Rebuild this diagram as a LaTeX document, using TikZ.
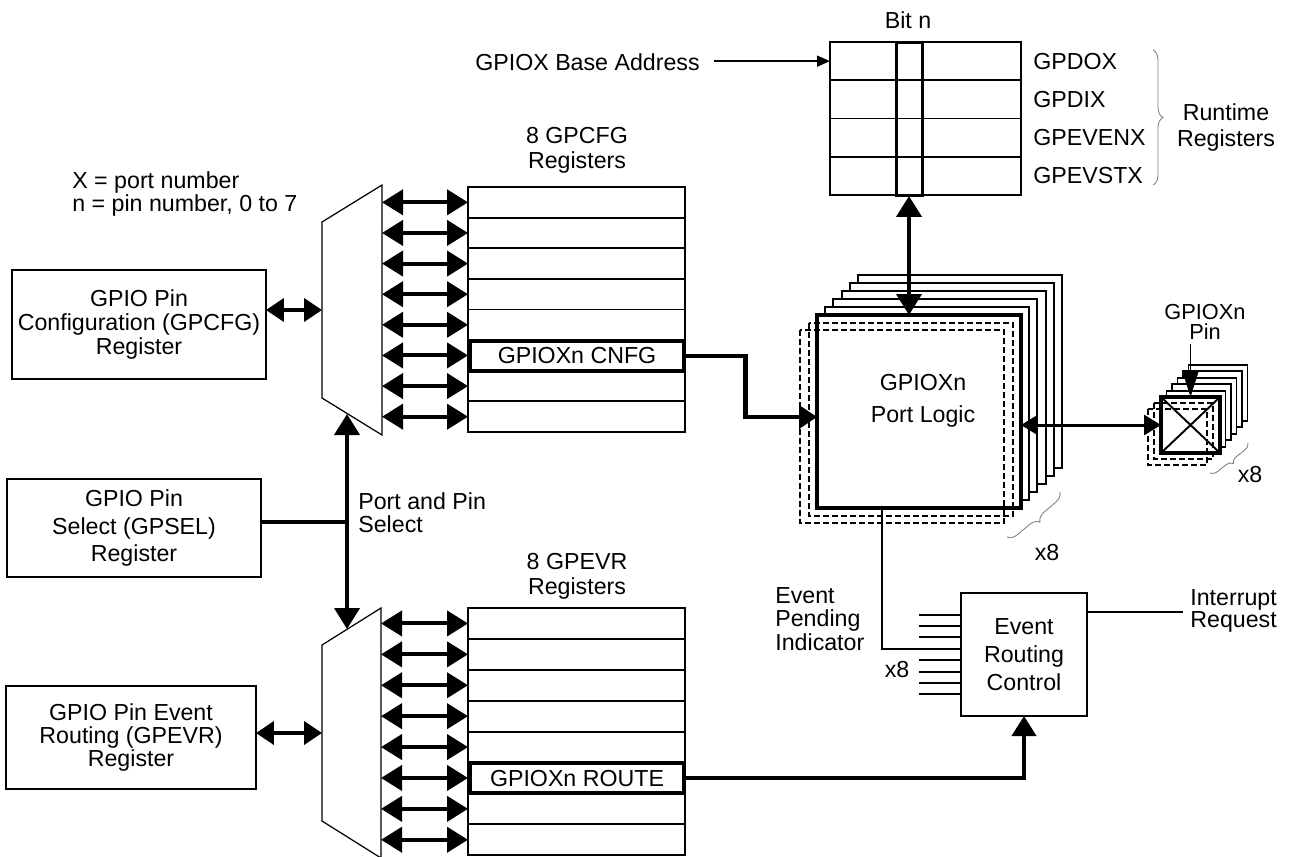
\documentclass[tikz,border=0pt]{standalone}
\usepackage{fontspec}
\setmainfont{Liberation Sans}
\usetikzlibrary{arrows.meta,decorations.pathreplacing,calc}
\tikzset{
  txt/.style={font=\fontsize{13.2}{#1}\selectfont, inner sep=0pt, align=center},
  txt/.default=14pt,
  boxed/.style={draw, line width=1.1pt, inner sep=0pt, outer sep=0pt},
  regrow/.style={boxed, minimum width=4.34cm, minimum height=0.6125cm},
  evrow/.style={boxed, minimum width=4.34cm, minimum height=0.618cm},
  hilite/.style={draw, line width=1.8pt, minimum width=4.26cm, minimum height=0.6cm, inner sep=0pt, outer sep=0pt, font=\fontsize{13.2}{14}\selectfont},
  muxline/.style={line width=0.7pt},
  heavy/.style={line width=2.3pt},
  dblbig/.style={arrows={Triangle[length=0.42cm,width=0.5cm]-Triangle[length=0.42cm,width=0.5cm]}},
  dblmed/.style={arrows={Triangle[length=0.36cm,width=0.46cm]-Triangle[length=0.36cm,width=0.46cm]}},
  dblsm/.style={arrows={Triangle[length=0.34cm,width=0.4cm]-Triangle[length=0.34cm,width=0.4cm]}},
  endbig/.style={arrows={-Triangle[length=0.4cm,width=0.48cm]}},
  endmed/.style={arrows={-Triangle[length=0.36cm,width=0.46cm]}},
  endnar/.style={arrows={-Triangle[length=0.52cm,width=0.32cm]}},
  endsm/.style={arrows={-Triangle[length=0.26cm,width=0.22cm]}},
  dashbox/.style={line width=1.4pt, dash pattern=on 0.12cm off 0.06cm},
  xbrace/.style={decorate, decoration={brace, amplitude=0.2cm, mirror}, gray, line width=0.5pt},
}
\begin{document}
\begin{tikzpicture}[x=0.02cm,y=-0.02cm]
\useasboundingbox (0,0) rectangle (1290,856);

% ---------- runtime registers ----------
\foreach \k in {1,...,4}
  \node[boxed, minimum width=3.82cm, minimum height=0.765cm] (rt\k) at (925.5,{42+(\k-0.5)*38.25}) {};
\node[draw, line width=1.7pt, minimum width=0.52cm, minimum height=3.08cm, inner sep=0pt, outer sep=0pt] (bitcol) at (909,119) {};
\node[txt] (bitn) at (908,20) {Bit n};
\node[txt, anchor=west] (gpdo) at ([xshift=0.24cm]rt1.east) {GPDOX};
\node[txt, anchor=west] (gpdi) at ([xshift=0.24cm]rt2.east) {GPDIX};
\node[txt, anchor=west] (gpen) at ([xshift=0.24cm]rt3.east) {GPEVENX};
\node[txt, anchor=west] (gpst) at ([xshift=0.24cm]rt4.east) {GPEVSTX};
\draw[decorate, decoration={brace, amplitude=0.2cm}, gray, line width=0.5pt] (1153,50) -- (1153,185);
\node[txt=14.8pt] (rtm) at (1226,127) {Runtime\\Registers};

\node[txt, anchor=west] (gbaddr) at (475,62) {GPIOX Base Address};
\coordinate (gbe) at ([xshift=0.28cm]gbaddr.east);
\draw[line width=0.9pt, endsm] (gbe |- rt1.west) -- (rt1.west);

% ---------- legend ----------
\node[txt=12.8pt, anchor=west, align=left] (legend) at (72,194) {X = port number\\n = pin number, 0 to 7};

% ---------- muxes ----------
\draw[muxline] (322,222) -- (382,185) -- (382,435) -- (322,398) -- cycle;
\coordinate (mAl) at (322,310);
\coordinate (mAr) at (382,310);
\coordinate (mAb) at (347,414);
\draw[muxline] (322,645) -- (381,608) -- (381,858) -- (322,821) -- cycle;
\coordinate (mBl) at (322,733);
\coordinate (mBr) at (381,733);
\coordinate (mBt) at (347,629);

% ---------- GPCFG registers ----------
\node[txt=14.2pt] (cfgttl) at (577,150) {8 GPCFG\\Registers};
\foreach \k in {1,...,8}
  \node[regrow] (cf\k) at (576.5,{187+(\k-0.5)*30.625}) {};
\node[hilite] (cnfg) at (577,356) {GPIOXn CNFG};
\foreach \k in {1,...,8}
  \draw[heavy, dblbig] (mAr |- cf\k.west) -- (cf\k.west);

% ---------- GPEVR registers ----------
\node[txt=14.2pt] (evttl) at (577,576) {8 GPEVR\\Registers};
\foreach \k in {1,...,8}
  \node[evrow] (ev\k) at (576.5,{608+(\k-0.5)*30.9}) {};
\node[hilite] (route) at (577,778) {GPIOXn ROUTE};
\foreach \k in {1,...,8}
  \draw[heavy, dblbig] (mBr |- ev\k.west) -- (ev\k.west);

% ---------- left boxes ----------
\node[boxed, txt=13.7pt, minimum width=5.08cm, minimum height=2.18cm] (gpcfg) at (139,324.5) {GPIO Pin\\Configuration (GPCFG)\\Register};
\draw[heavy, dblmed] (mAl -| gpcfg.east) -- (mAl);

\node[boxed, txt=15.4pt, minimum width=5.08cm, minimum height=1.96cm] (gpsel) at (134,528) {GPIO Pin\\Select (GPSEL)\\Register};
\coordinate (selj) at (347,522);
\draw[line width=2pt] (selj -| gpsel.east) -- (selj);
\draw[heavy, dblbig] (mAb) -- (mBt);
\node[txt=13.1pt, anchor=west, align=left] (pps) at (358,513) {Port and Pin\\Select};

\node[boxed, txt=13.2pt, minimum width=5.0cm, minimum height=2.06cm] (gpevr) at (131,737.5) {GPIO Pin Event\\Routing (GPEVR)\\Register};
\draw[heavy, dblmed] (mBl -| gpevr.east) -- (mBl);

% ---------- port logic stack ----------
\foreach \i in {5,4,3,2,1}
  \draw[line width=1.1pt, fill=white] ({817+8.2*\i},{315-8*\i}) rectangle ++(204,193);
\node[draw, fill=white, line width=1.8pt, minimum width=4.08cm, minimum height=3.86cm, inner sep=0pt, outer sep=0pt] (pl) at (919,411.5) {};
\draw[dashbox] (809,323) rectangle ++(204,193);
\draw[dashbox] (800,330) rectangle ++(204,193);
\node[txt=18.2pt] (pltxt) at (923,401) {GPIOXn\\Port Logic};

\draw[heavy, dblbig] (bitcol.south) -- (bitcol.south |- pl.north);
\draw[heavy, endmed] (cnfg.east) -- ++(62,0) |- ([yshift=-0.11cm]pl.west);

\draw[xbrace] (1007,537) -- (1060,492);
\node[txt] (x8a) at (1047,553) {x8};

% ---------- pin stack ----------
\foreach \i in {5,4,3,2,1}
  \draw[line width=1.1pt, fill=white] ({1161+5.5*\i},{397-6.4*\i}) rectangle ++(59,56);
\node[draw, fill=white, line width=1.8pt, minimum width=1.18cm, minimum height=1.12cm, inner sep=0pt, outer sep=0pt] (pin) at (1190.5,425) {};
\draw[line width=1.1pt] (pin.north west) -- (pin.south east) (pin.north east) -- (pin.south west);
\draw[dashbox] (1154,403) rectangle ++(59,56);
\draw[dashbox] (1148,409) rectangle ++(59,56);
\node[font=\fontsize{12.4}{11.4}\selectfont, inner sep=0pt, align=center] (pinlbl) at (1205,322) {GPIOXn\\Pin};
\draw[line width=1.1pt, endnar] ([yshift=-0.08cm]pin.north |- pinlbl.south) -- (pin.north);
\draw[line width=1.7pt, dblsm] (pl.east |- pin.west) -- (pin.west);
\draw[xbrace, decoration={amplitude=0.14cm}] (1210,473) -- (1248,443);
\node[txt] (x8b) at (1250,475) {x8};

% ---------- event routing ----------
\node[boxed, txt=15.9pt, minimum width=2.52cm, minimum height=2.46cm] (erc) at (1024,654.5) {Event\\Routing\\Control};
\foreach \k in {0,...,7}
  \draw[line width=1.1pt] ([yshift={(3.5-\k)*0.228cm}]erc.west) -- ++(-42,0);
\draw[line width=1.1pt] ([xshift=-0.74cm]pl.south) |- ([yshift=0.114cm]erc.west);
\node[txt] (x8c) at (897,670) {x8};
\node[txt=13.4pt, anchor=west, align=left] (epi) at (775,619) {Event\\Pending\\Indicator};
\draw[heavy, endbig] (route.east) -| (erc.south);
\draw[line width=1.1pt] ([yshift=0.85cm]erc.east) -- ++(96,0) coordinate (irq);
\node[txt=12.5pt, anchor=west, align=left] (irqtxt) at (1190,611) {Interrupt\\Request};
\end{tikzpicture}
\end{document}
